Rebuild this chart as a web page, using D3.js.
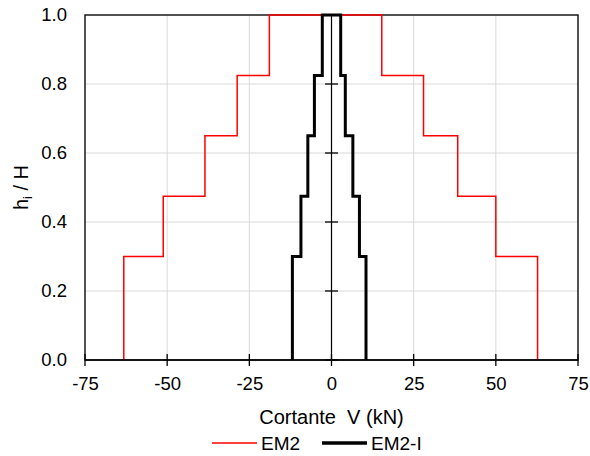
<!DOCTYPE html>
<html>
<head>
<meta charset="utf-8">
<script src="https://cdn.jsdelivr.net/npm/d3@7"></script>
<style>
  html, body { margin: 0; padding: 0; background: #fff; }
  svg { display: block; font-family: "Liberation Sans", Arial, sans-serif; }
</style>
</head>
<body>
<svg id="chart" width="590" height="456"></svg>
<script>
// Storey heights (h_i / H) at which the shear changes
const levels = [0, 0.3, 0.475, 0.65, 0.825, 1.0];

// Shear per storey, from the base storey upward (kN)
const em2Left   = [-63.2, -51.2, -38.5, -28.7, -18.9];
const em2Right  = [62.7, 50.0, 38.4, 28.0, 15.3];
const em2iLeft  = [-11.9, -9.3, -7.2, -5.2, -2.8];
const em2iRight = [10.5, 8.5, 6.5, 4.2, 2.8];

const xTicks = [-75, -50, -25, 0, 25, 50, 75];
const yTicks = [0, 0.2, 0.4, 0.6, 0.8, 1.0];

const seriesNames = ["EM2", "EM2-I"];

const W = 590, H = 456;
const margin = { left: 85, right: 12, top: 15, bottom: 96 };

const svg = d3.select("#chart");

const x = d3.scaleLinear().domain([-75, 75]).range([margin.left, W - margin.right]);
const y = d3.scaleLinear().domain([0, 1]).range([H - margin.bottom, margin.top]);

// Gridlines
const grid = svg.append("g");
grid.selectAll("line.v")
  .data(xTicks.filter(d => d !== -75 && d !== 75 && d !== 0))
  .join("line")
  .attr("x1", d => x(d)).attr("x2", d => x(d))
  .attr("y1", y(0)).attr("y2", y(1))
  .attr("stroke", "#d9d9d9").attr("stroke-width", 1);
grid.selectAll("line.h")
  .data(yTicks.filter(d => d !== 0 && d !== 1))
  .join("line")
  .attr("x1", x(-75)).attr("x2", x(75))
  .attr("y1", d => y(d)).attr("y2", d => y(d))
  .attr("stroke", "#d9d9d9").attr("stroke-width", 1);

// Plot frame
svg.append("rect")
  .attr("x", x(-75)).attr("y", y(1))
  .attr("width", x(75) - x(-75)).attr("height", y(0) - y(1))
  .attr("fill", "none").attr("stroke", "#1a1a1a").attr("stroke-width", 1.5);

// Step outline of a shear envelope
function stepPoints(left, right) {
  const pts = [];
  for (let i = 0; i < left.length; i++) {
    pts.push([left[i], levels[i]], [left[i], levels[i + 1]]);
  }
  for (let i = right.length - 1; i >= 0; i--) {
    pts.push([right[i], levels[i + 1]], [right[i], levels[i]]);
  }
  return pts;
}

const line = d3.line().x(d => x(d[0])).y(d => y(d[1]));

svg.append("path")
  .attr("d", line(stepPoints(em2Left, em2Right)))
  .attr("fill", "none").attr("stroke", "#ff0000").attr("stroke-width", 1.5)
  .attr("stroke-linejoin", "miter");

svg.append("path")
  .attr("d", line(stepPoints(em2iLeft, em2iRight)))
  .attr("fill", "none").attr("stroke", "#000").attr("stroke-width", 3)
  .attr("stroke-linejoin", "miter");

// X axis along the base, with crossing ticks
const xAxis = svg.append("g").attr("transform", `translate(0,${y(0)})`)
  .call(d3.axisBottom(x).tickValues(xTicks).tickSize(0).tickFormat(d3.format("d")));
xAxis.select(".domain").remove();
xAxis.selectAll(".tick line").remove();
xAxis.selectAll(".tick text")
  .attr("dy", 0).attr("y", 30)
  .attr("font-size", 18.5).attr("fill", "#000")
  .attr("font-family", "Liberation Sans, Arial, sans-serif")
  .text(d => d < 0 ? "-" + Math.abs(d) : d);
svg.append("line")
  .attr("x1", x(-75)).attr("x2", x(75)).attr("y1", y(0)).attr("y2", y(0))
  .attr("stroke", "#000").attr("stroke-width", 1.5);
svg.selectAll("line.xtick").data(xTicks).join("line")
  .attr("x1", d => x(d)).attr("x2", d => x(d))
  .attr("y1", y(0) - 6).attr("y2", y(0) + 6)
  .attr("stroke", "#000").attr("stroke-width", 1.3);

// Y axis crossing at V = 0, labels at the left edge
svg.append("line")
  .attr("x1", x(0)).attr("x2", x(0)).attr("y1", y(0)).attr("y2", y(1))
  .attr("stroke", "#000").attr("stroke-width", 1.2);
svg.selectAll("line.ytick").data(yTicks).join("line")
  .attr("x1", x(0) - 6.5).attr("x2", x(0) + 6.5)
  .attr("y1", d => y(d)).attr("y2", d => y(d))
  .attr("stroke", "#000").attr("stroke-width", 1.3);
svg.selectAll("text.ylab").data(yTicks).join("text")
  .attr("x", x(-75) - 18).attr("y", d => y(d))
  .attr("dy", "0.35em").attr("text-anchor", "end")
  .attr("font-size", 18.5).attr("fill", "#000")
  .text(d => d3.format(".1f")(d));

// Axis titles
svg.append("text")
  .attr("x", x(0)).attr("y", 424)
  .attr("text-anchor", "middle").attr("font-size", 20)
  .style("white-space", "pre")
  .text("Cortante  V (kN)");

const yt = svg.append("text")
  .attr("transform", `translate(28,${(y(0) + y(1)) / 2}) rotate(-90)`)
  .attr("text-anchor", "middle").attr("font-size", 20);
yt.append("tspan").text("h");
yt.append("tspan").attr("font-size", 13).attr("dy", 4).text("i");
yt.append("tspan").attr("dy", -4).text(" / H");

// Legend
const legend = [
  { name: seriesNames[0], color: "#ff0000", width: 1.5, x0: 212 },
  { name: seriesNames[1], color: "#000", width: 3.5, x0: 322 }
];
const lg = svg.append("g");
legend.forEach(d => {
  lg.append("line")
    .attr("x1", d.x0).attr("x2", d.x0 + 45).attr("y1", 443).attr("y2", 443)
    .attr("stroke", d.color).attr("stroke-width", d.width);
  lg.append("text")
    .attr("x", d.x0 + 49).attr("y", 450).attr("font-size", 19)
    .text(d.name);
});
</script>
</body>
</html>
